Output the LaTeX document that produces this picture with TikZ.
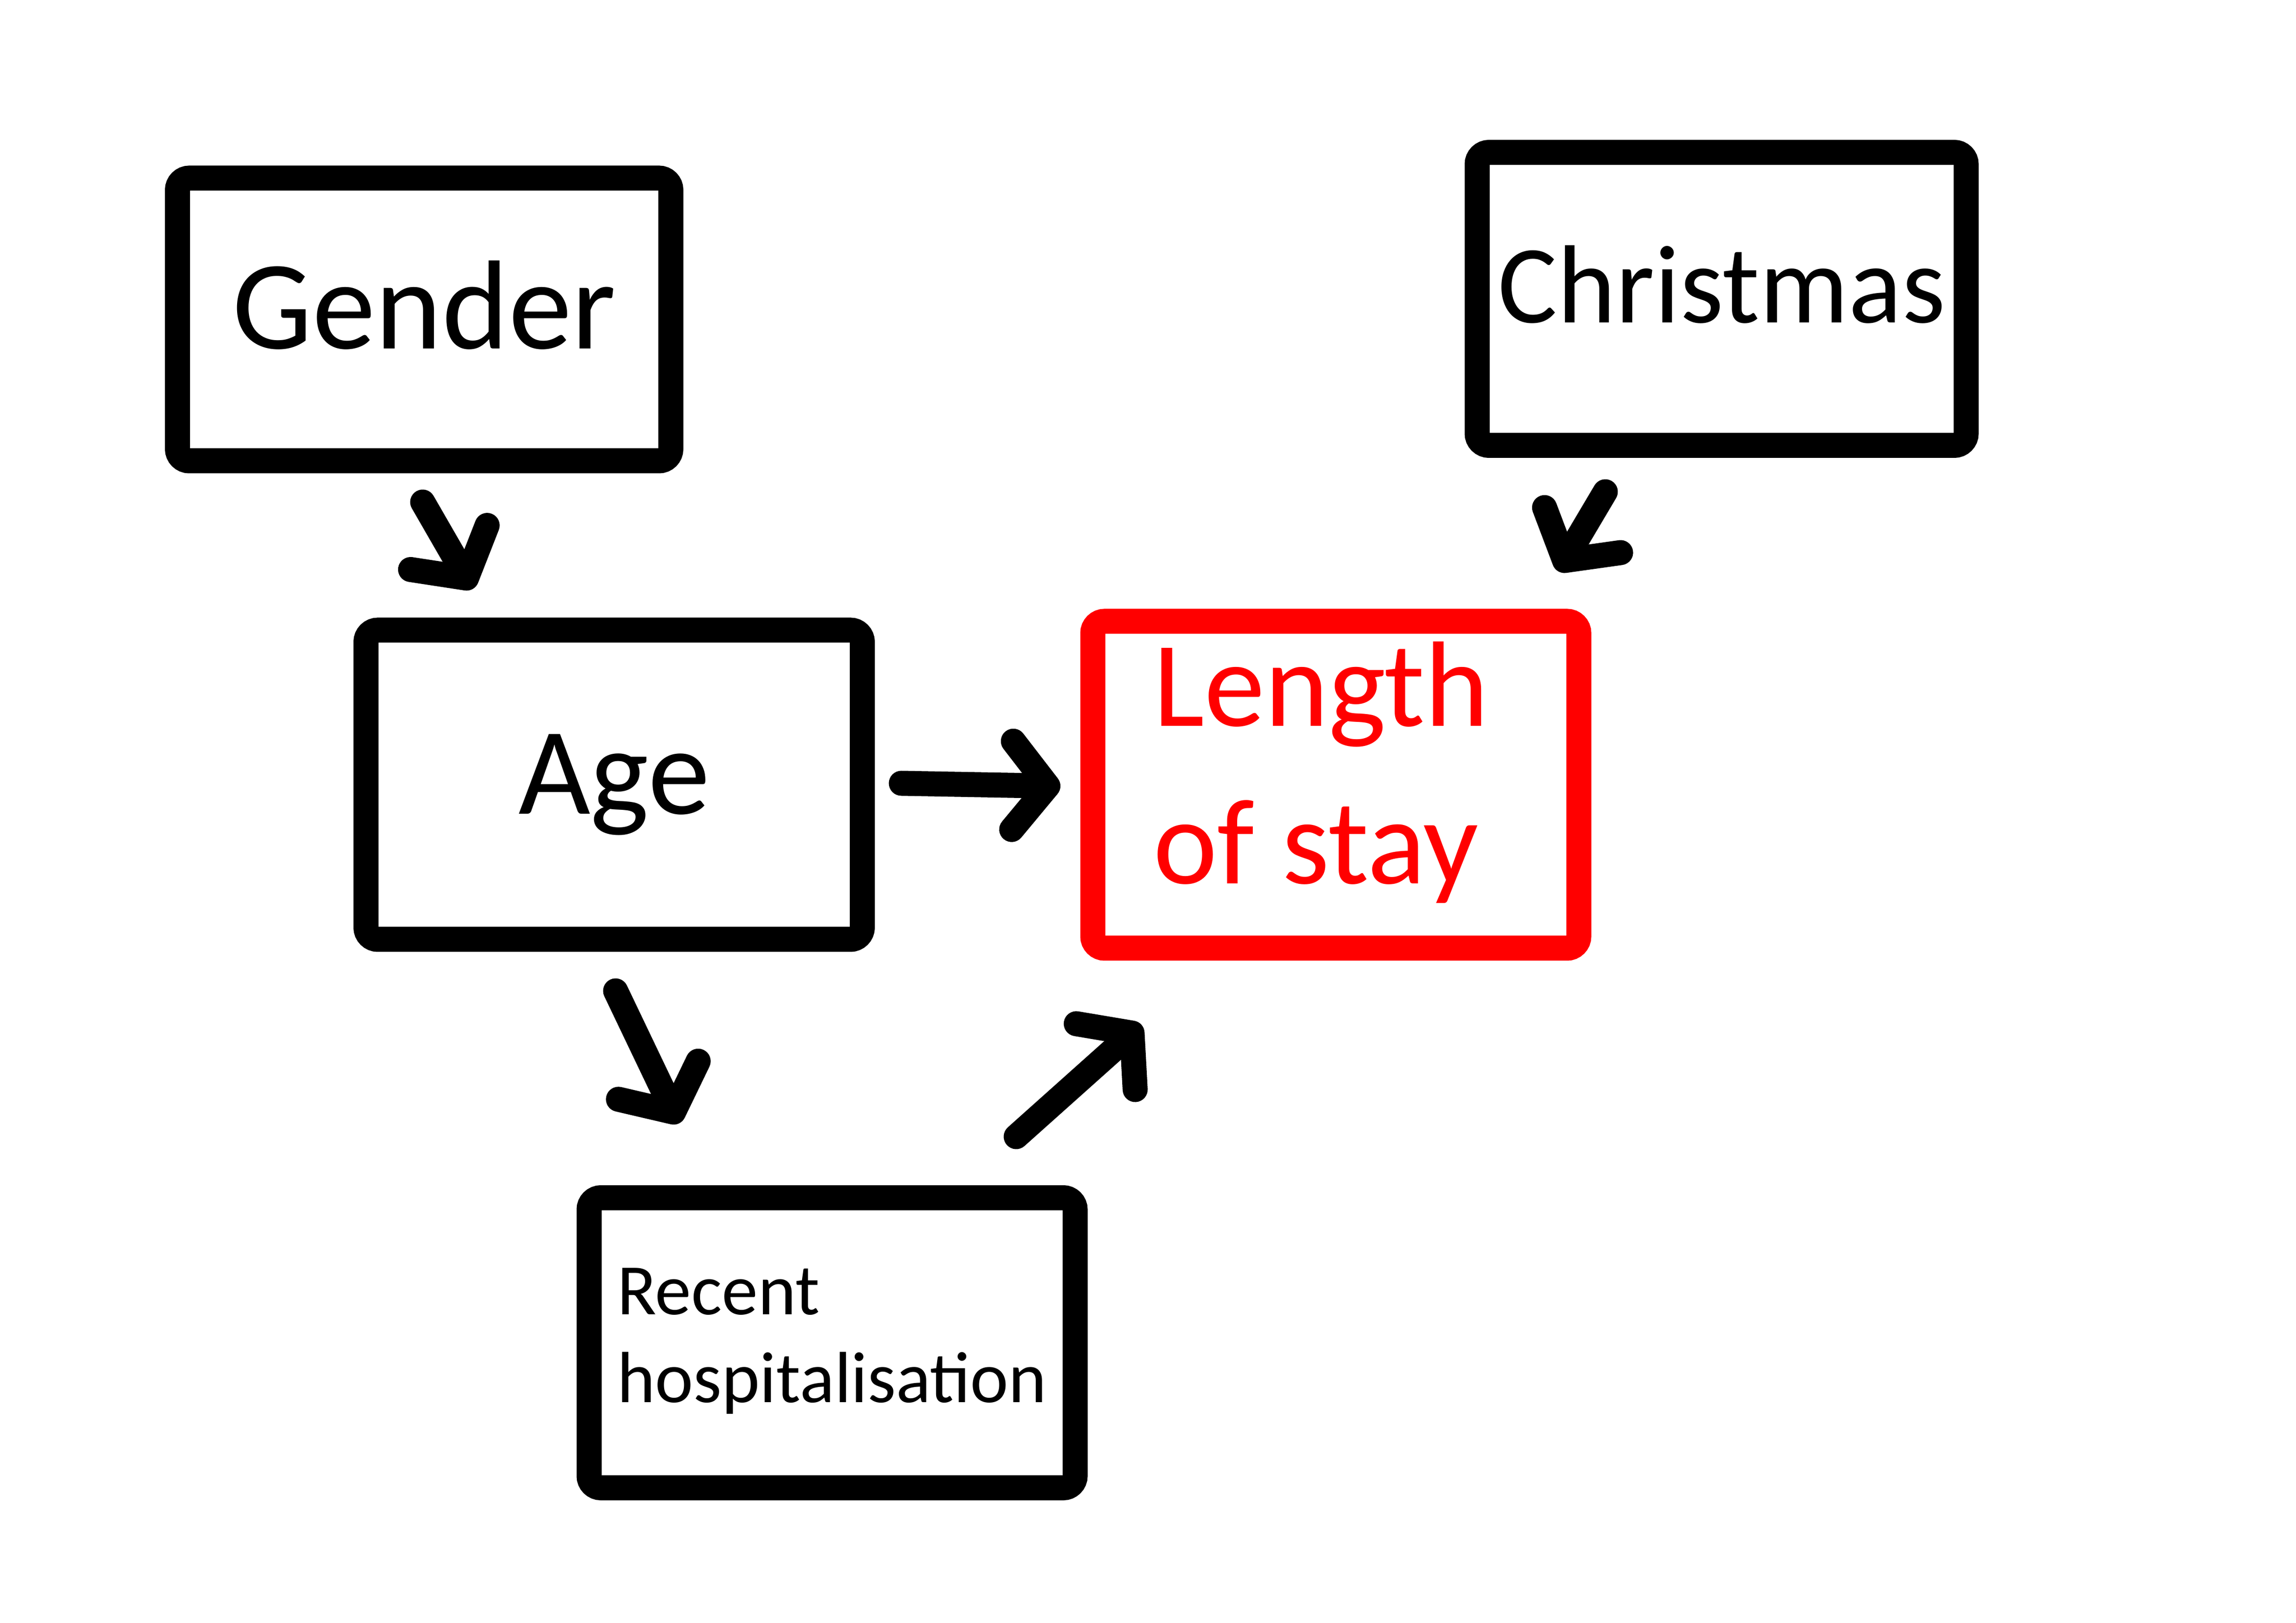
\documentclass[tikz,border=0pt]{standalone}
\usepackage{fontspec}
\setmainfont{Carlito}
\usetikzlibrary{arrows.meta, positioning}

\tikzset{
  box/.style={draw, line width=1.7mm, rounded corners=0.8mm, inner sep=0pt},
  arr/.style={line width=1.7mm, line cap=round,
    -{Straight Barb[length=2.4mm, width=6mm, round]}},
}

\begin{document}
\begin{tikzpicture}
    \useasboundingbox (0,0) rectangle (15.59,-11.023);
    \fill[white] (0,0) rectangle (15.59,-11.023);

    \node[box, minimum width=3.35cm, minimum height=1.92cm, text depth=0.2cm,
          font=\fontsize{24.5}{30}\selectfont] (gender) at (2.88,-2.17) {Gender};
    \node[box, minimum width=3.32cm, minimum height=1.99cm, text depth=0.2cm,
          font=\fontsize{21.5}{27}\selectfont] (christmas) at (11.69,-2.03) {Christmas};
    \node[box, minimum width=3.37cm, minimum height=2.10cm,
          font=\fontsize{24}{29}\selectfont] (age) at (4.17,-5.33) {Age};
    \node[box, red, text=red, minimum width=3.30cm, minimum height=2.22cm, align=left,
          text depth=0.3cm, font=\fontsize{23.5}{30.5}\selectfont] (stay) at (9.07,-5.33)
          {\hspace*{-0.2cm}Length\\\hspace*{-0.2cm}of stay};
    \node[box, minimum width=3.30cm, minimum height=1.97cm, align=left, text depth=0.1cm,
          font=\fontsize{14}{17}\selectfont] (recent) at (5.65,-9.12) {Recent\\hospitalisation};

    % loose hand drawn arrows between the boxes
    \coordinate (gender-out)    at (2.87,-3.41);
    \coordinate (age-in)        at (3.21,-4.00);
    \coordinate (christmas-out) at (10.90,-3.34);
    \coordinate (stay-in1)      at (10.58,-3.88);
    \coordinate (age-out1)      at (6.12,-5.32);
    \coordinate (stay-in2)      at (7.20,-5.34);
    \coordinate (age-out2)      at (4.18,-6.73);
    \coordinate (recent-in)     at (4.61,-7.63);
    \coordinate (recent-out)    at (6.90,-7.72);
    \coordinate (stay-in3)      at (7.75,-6.96);

    \foreach \s/\t in {gender-out/age-in, christmas-out/stay-in1, age-out1/stay-in2,
                       age-out2/recent-in, recent-out/stay-in3}
      \draw[arr] (\s) -- (\t);
\end{tikzpicture}
\end{document}
